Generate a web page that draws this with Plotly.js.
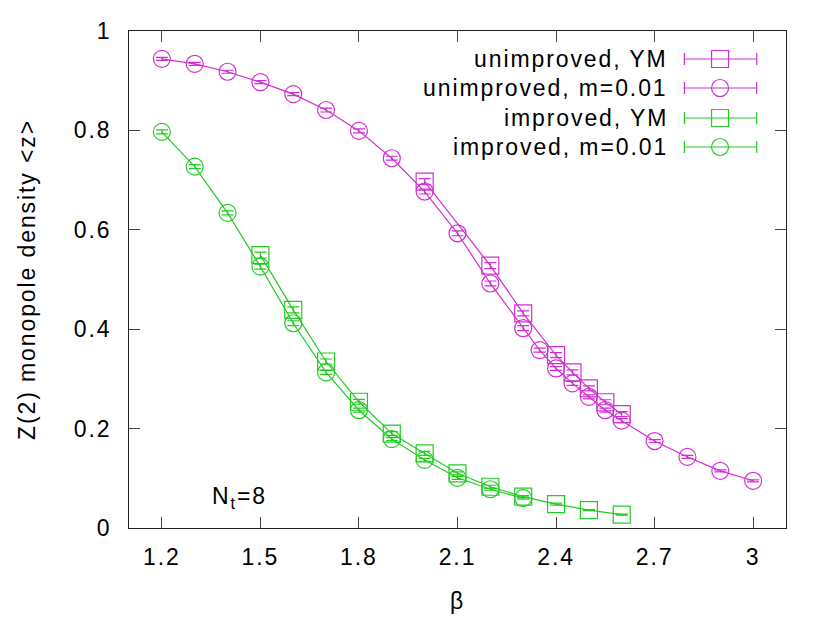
<!DOCTYPE html>
<html>
<head>
<meta charset="utf-8">
<script src="https://cdn.plot.ly/plotly-3.0.1.min.js"></script>
<style>
  html, body { margin: 0; padding: 0; background: #fff; }
  svg text { letter-spacing: 1.9px; }
</style>
</head>
<body>
<div id="chart" style="width:830px;height:623px;"></div>
<script>
// ---- data ----
const betaUnimpM = [1.2, 1.3, 1.4, 1.5, 1.6, 1.7, 1.8, 1.9, 2.0, 2.1, 2.2, 2.3, 2.35, 2.4, 2.45, 2.5, 2.55, 2.6, 2.7, 2.8, 2.9, 3.0];
const zUnimpM    = [0.944, 0.934, 0.918, 0.897, 0.873, 0.841, 0.799, 0.744, 0.677, 0.593, 0.492, 0.402, 0.358, 0.321, 0.291, 0.264, 0.237, 0.216, 0.175, 0.143, 0.115, 0.095];
const errUnimpM  = [0.003, 0.003, 0.003, 0.003, 0.003, 0.004, 0.004, 0.004, 0.005, 0.005, 0.005, 0.005, 0.004, 0.004, 0.004, 0.004, 0.004, 0.004, 0.003, 0.003, 0.002, 0.002];

const betaUnimpYM = [2.0, 2.2, 2.3, 2.4, 2.45, 2.5, 2.55, 2.6];
const zUnimpYM    = [0.697, 0.528, 0.432, 0.348, 0.313, 0.281, 0.253, 0.229];
const errUnimpYM  = [0.006, 0.006, 0.005, 0.005, 0.005, 0.005, 0.005, 0.005];

const betaImpYM = [1.5, 1.6, 1.7, 1.8, 1.9, 2.0, 2.1, 2.2, 2.3, 2.4, 2.5, 2.6];
const zImpYM    = [0.549, 0.439, 0.335, 0.254, 0.190, 0.150, 0.110, 0.083, 0.063, 0.048, 0.036, 0.027];
const errImpYM  = [0.006, 0.006, 0.005, 0.005, 0.004, 0.004, 0.003, 0.003, 0.002, 0.002, 0.001, 0.001];

const betaImpM = [1.2, 1.3, 1.4, 1.5, 1.6, 1.7, 1.8, 1.9, 2.0, 2.1, 2.2, 2.3];
const zImpM    = [0.797, 0.727, 0.634, 0.526, 0.412, 0.313, 0.237, 0.179, 0.137, 0.101, 0.078, 0.060];
const errImpM  = [0.004, 0.004, 0.004, 0.005, 0.005, 0.004, 0.004, 0.003, 0.003, 0.003, 0.002, 0.002];

const seriesNames = ['unimproved, YM', 'unimproved, m=0.01', 'improved, YM', 'improved, m=0.01'];
const xTickVals = [1.2, 1.5, 1.8, 2.1, 2.4, 2.7, 3];
const xTickText = ['1.2', '1.5', '1.8', '2.1', '2.4', '2.7', '3'];
const yTickVals = [0, 0.2, 0.4, 0.6, 0.8, 1];
const yTickText = ['0', '0.2', '0.4', '0.6', '0.8', '1'];
const xTitle = 'β';
const yTitle = 'Z(2) monopole density <z>';

// ---- styling ----
const MAG = '#d22ed2';
const GRN = '#22cc22';
const FONT = 'Liberation Sans, Arial, sans-serif';
const FS = 23;
const colors = [MAG, MAG, GRN, GRN];
const symbols = ['square-open', 'circle-open', 'square-open', 'circle-open'];

function mk(x, y, e, i) {
  return {
    type: 'scatter', mode: 'lines+markers', x: x, y: y, name: seriesNames[i],
    showlegend: false,
    line: { color: colors[i], width: 1.2 },
    marker: { symbol: symbols[i], size: 17, color: colors[i], line: { color: colors[i], width: 1.2 } },
    error_y: { type: 'data', array: e, visible: true, color: colors[i], thickness: 1.2, width: 6 }
  };
}

const traces = [
  mk(betaUnimpYM, zUnimpYM, errUnimpYM, 0),
  mk(betaUnimpM, zUnimpM, errUnimpM, 1),
  mk(betaImpYM, zImpYM, errImpYM, 2),
  mk(betaImpM, zImpM, errImpM, 3)
];

// ---- custom gnuplot-style legend (text left, sample right) ----
const legRows = [0.9437, 0.8853, 0.8249, 0.7666];
const legTextX = 0.8240, legX0 = 0.8453, legX1 = 0.9554, legXm = 0.8996;
const shapes = [];
const annotations = [];
legRows.forEach((ry, i) => {
  const c = colors[i];
  shapes.push({ type: 'line', xref: 'paper', yref: 'paper', x0: legX0, x1: legX1, y0: ry, y1: ry, line: { color: c, width: 1.2 } });
  [legX0, legX1].forEach(xx => {
    shapes.push({ type: 'line', xref: 'paper', yref: 'paper', xsizemode: 'pixel', ysizemode: 'pixel',
      xanchor: xx, yanchor: ry, x0: 0, x1: 0, y0: -6, y1: 6, line: { color: c, width: 1.2 } });
  });
  shapes.push({ type: symbols[i].startsWith('circle') ? 'circle' : 'rect', xref: 'paper', yref: 'paper',
    xsizemode: 'pixel', ysizemode: 'pixel', xanchor: legXm, yanchor: ry,
    x0: -8.5, x1: 8.5, y0: -8.5, y1: 8.5, line: { color: c, width: 1.2 }, fillcolor: 'rgba(0,0,0,0)' });
  annotations.push({ xref: 'paper', yref: 'paper', x: legTextX, y: ry, xanchor: 'right', yanchor: 'middle',
    text: seriesNames[i], showarrow: false, font: { family: FONT, size: FS, color: '#000' } });
});
annotations.push({ xref: 'x', yref: 'y', x: 1.435, y: 0.062, xanchor: 'center', yanchor: 'middle',
  text: 'N<sub>t</sub>=8', showarrow: false, font: { family: FONT, size: FS, color: '#000' } });
// y-axis title placed gnuplot-style (further left than Plotly's automatic placement)
annotations.push({ xref: 'paper', yref: 'paper', x: -0.156, y: 0.5, xanchor: 'center', yanchor: 'middle',
  textangle: -90, text: yTitle.replace(/</g, '&lt;').replace(/>/g, '&gt;'), showarrow: false,
  font: { family: FONT, size: FS, color: '#000' } });

const axisCommon = {
  showgrid: false, zeroline: false, showline: true, linecolor: '#222', linewidth: 1,
  mirror: 'ticks', ticks: 'inside', ticklen: 11, tickwidth: 1, tickcolor: '#444',
  tickfont: { family: FONT, size: FS, color: '#000' }
};

const layout = {
  width: 830, height: 623,
  margin: { l: 129, r: 44, t: 31, b: 95, pad: 0 },
  paper_bgcolor: '#fff', plot_bgcolor: '#fff',
  font: { family: FONT, size: FS, color: '#000' },
  showlegend: false,
  xaxis: Object.assign({}, axisCommon, {
    range: [1.1, 3.1], tickmode: 'array', tickvals: xTickVals, ticktext: xTickText,
    ticklabelstandoff: 8,
    title: { text: xTitle, font: { family: FONT, size: FS, color: '#000' }, standoff: 24 }
  }),
  yaxis: Object.assign({}, axisCommon, {
    range: [0, 1], tickmode: 'array', tickvals: yTickVals, ticktext: yTickText,
    ticklabelstandoff: 12
  }),
  shapes: shapes,
  annotations: annotations
};

Plotly.newPlot('chart', traces, layout, { displayModeBar: false, staticPlot: true });
</script>
</body>
</html>
